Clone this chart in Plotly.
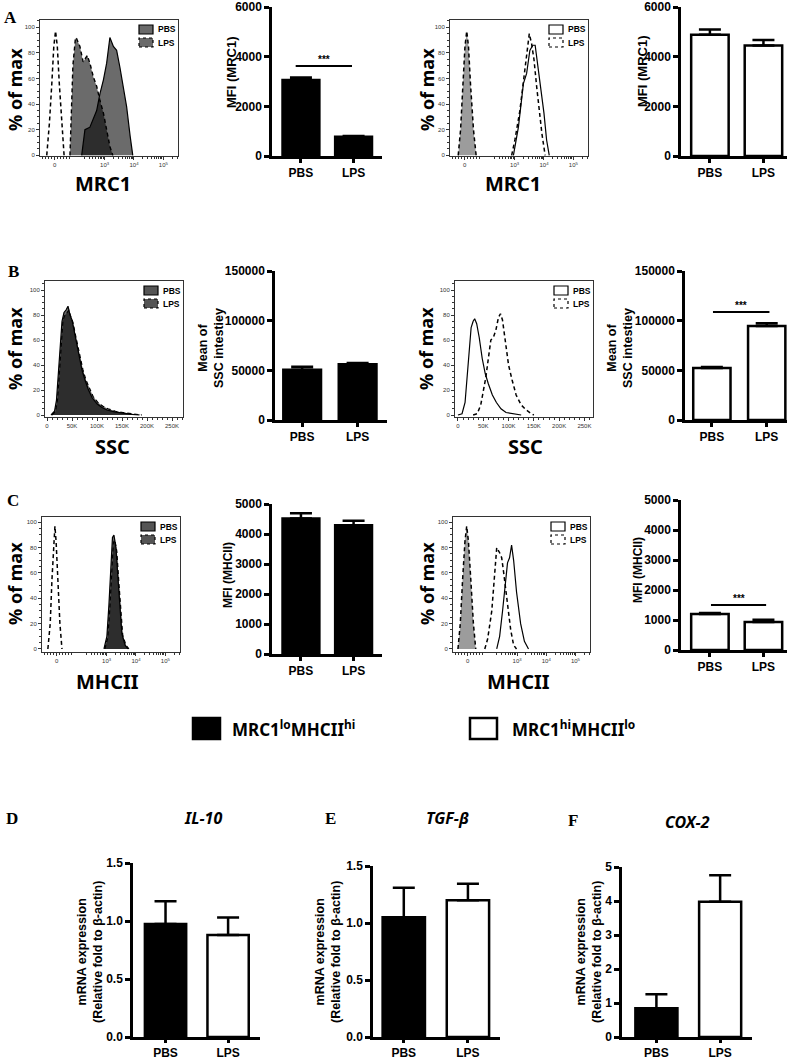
import numpy as np
import plotly.graph_objects as go

W, H = 797, 1060

groups = ['PBS', 'LPS']

# ---------------- histogram data ----------------
# MRC1 / MHCII axes are biexponential: display units 0 -> 1.3, 10^3 -> 3, 10^4 -> 4, 10^5 -> 5
dec_tickvals = [1.3, 3, 4, 5]
dec_ticktext = ['0', '10<sup>3</sup>', '10<sup>4</sup>', '10<sup>5</sup>']

a1_iso_x = [1.03, 1.12, 1.20, 1.27, 1.33, 1.39, 1.46, 1.54, 1.62]
a1_iso_y = [0, 25, 55, 85, 97, 85, 55, 25, 0]
a1_lps_x = [1.82, 1.86, 1.92, 2.00, 2.03, 2.16, 2.27, 2.41, 2.50, 2.62, 2.73, 2.84, 2.96, 3.07, 3.18, 3.28]
a1_lps_y = [0, 30, 70, 90, 92, 85, 73, 78, 72, 61, 54, 43, 33, 20, 7, 0]
a1_pbs_x = [2.22, 2.33, 2.50, 2.73, 2.84, 2.96, 3.07, 3.18, 3.30, 3.41, 3.52, 3.64, 3.75, 3.87, 3.96]
a1_pbs_y = [0, 20, 22, 35, 48, 59, 72, 92, 85, 82, 69, 54, 38, 15, 0]

a3_iso_x = [1.08, 1.16, 1.24, 1.31, 1.37, 1.43, 1.50, 1.60, 1.69]
a3_iso_y = [0, 20, 55, 85, 97, 85, 55, 20, 0]
a3_pbs_x = [2.96, 3.01, 3.13, 3.30, 3.41, 3.52, 3.62, 3.70, 3.75, 3.84, 3.92, 4.00, 4.09, 4.18]
a3_pbs_y = [0, 7, 22, 56, 64, 82, 86, 86, 77, 61, 46, 33, 12, 0]
a3_lps_x = [2.90, 3.01, 3.18, 3.32, 3.41, 3.50, 3.58, 3.66, 3.75, 3.84, 3.93, 4.04]
a3_lps_y = [0, 12, 35, 61, 80, 95, 87, 75, 54, 35, 17, 0]

ssc_tickvals = [0, 50000, 100000, 150000, 200000, 250000]
ssc_ticktext = ['0', '50K', '100K', '150K', '200K', '250K']

b1_pbs_x = [8, 15, 19, 22, 26, 30, 34, 38, 42, 46, 50, 55, 60, 65, 70, 76, 82, 90, 100, 110, 120, 135, 150, 170, 185]
b1_pbs_y = [0, 3, 12, 28, 55, 75, 82, 84, 87, 80, 76, 66, 55, 45, 36, 28, 21, 14, 9, 6, 4, 2.5, 1.5, 0.5, 0]
b1_lps_x = [10, 17, 21, 24, 28, 32, 36, 40, 44, 48, 52, 57, 62, 67, 72, 78, 84, 92, 102, 112, 122, 137, 152, 172, 190]
b1_lps_y = [0, 3, 12, 28, 55, 76, 80, 82, 84, 78, 74, 64, 54, 44, 36, 28, 22, 15, 10, 7, 5, 3, 2, 1, 0]

b3_pbs_x = [0, 8, 14, 18, 22, 26, 30, 33, 37, 42, 48, 54, 60, 68, 76, 85, 95, 110, 125]
b3_pbs_y = [0, 1, 10, 30, 55, 70, 75, 77, 73, 62, 45, 33, 25, 16, 10, 5, 2, 1, 0]
b3_lps_x = [30, 38, 45, 50, 55, 60, 65, 70, 75, 80, 84, 88, 92, 96, 100, 107, 115, 125, 135, 145, 150]
b3_lps_y = [0, 1, 8, 18, 30, 45, 60, 62, 68, 78, 81, 76, 65, 52, 40, 28, 16, 8, 4, 1, 0]

c1_iso_x = [1.00, 1.08, 1.14, 1.20, 1.24, 1.28, 1.34, 1.41, 1.48]
c1_iso_y = [0, 20, 55, 85, 97, 85, 55, 20, 0]
c1_pbs_x = [2.91, 3.01, 3.08, 3.15, 3.20, 3.25, 3.32, 3.39, 3.46, 3.52, 3.63, 3.73]
c1_pbs_y = [0, 10, 35, 70, 88, 90, 80, 55, 30, 12, 3, 0]
c1_lps_x = [2.94, 3.04, 3.11, 3.18, 3.23, 3.28, 3.35, 3.42, 3.49, 3.55, 3.66, 3.76]
c1_lps_y = [0, 9, 32, 66, 84, 86, 77, 52, 28, 11, 3, 0]

c3_iso_x = [0.97, 1.05, 1.13, 1.21, 1.27, 1.33, 1.41, 1.50, 1.58]
c3_iso_y = [0, 20, 55, 85, 97, 85, 55, 20, 0]
c3_lps_x = [1.89, 1.99, 2.13, 2.23, 2.30, 2.40, 2.47, 2.54, 2.64, 2.78, 2.88, 2.98]
c3_lps_y = [0, 8, 30, 60, 80, 76, 72, 60, 40, 15, 3, 0]
c3_pbs_x = [2.30, 2.40, 2.50, 2.61, 2.67, 2.74, 2.81, 2.88, 2.98, 3.12, 3.25, 3.39]
c3_pbs_y = [0, 10, 30, 55, 68, 72, 82, 70, 45, 20, 6, 0]

# ---------------- bar data ----------------
mfi_mrc1_lo = [3060, 780]
mfi_mrc1_lo_err = [100, 25]
mfi_mrc1_hi = [4880, 4450]
mfi_mrc1_hi_err = [210, 220]
ssc_lo = [50500, 56000]
ssc_lo_err = [3000, 1500]
ssc_hi = [52300, 94600]
ssc_hi_err = [1000, 2700]
mfi_mhcii_lo = [4520, 4290]
mfi_mhcii_lo_err = [170, 150]
mfi_mhcii_hi = [1200, 930]
mfi_mhcii_hi_err = [30, 80]
il10 = [0.975, 0.88]
il10_err = [0.195, 0.15]
tgfb = [1.05, 1.20]
tgfb_err = [0.26, 0.145]
cox2 = [0.845, 3.98]
cox2_err = [0.415, 0.78]

# significance bars: (x0, x1, y, label)
sig_a2 = (-0.1, 0.97, 3620, '***')
sig_b4 = (0.02, 1.05, 108700, '***')
sig_c4 = (0.02, 1.05, 1500, '***')
sig_f = (-0.02, 1.05, 5.08, '**')

ARIAL = 'Arial, Liberation Sans, sans-serif'
SANS = 'Noto Sans, Open Sans, sans-serif'
SERIF = 'Times New Roman, Liberation Serif, serif'
FILL = 'rgba(0,0,0,0.58)'
ISO_FILL = '#9c9c9c'
DASH = '4px,3px'


def px_x(p):
    return p / W


def px_y(p):
    return 1 - p / H


fig = go.Figure()
layout = dict(template='none', width=W, height=H, margin=dict(l=0, r=0, t=0, b=0, pad=0, autoexpand=False),
              paper_bgcolor='white', plot_bgcolor='white', showlegend=False)
annotations = []
shapes = []
axis_count = [0]


def text(x, y, s, size, family=ARIAL, angle=0, style='normal', xanchor='center'):
    if style == 'italic':
        s = '<i><b>' + s + '</b></i>'
    else:
        s = '<b>' + s + '</b>'
    annotations.append(dict(x=px_x(x), y=px_y(y), xref='paper', yref='paper', text=s,
                            showarrow=False, textangle=angle, xanchor=xanchor, yanchor='middle',
                            font=dict(size=size, family=family, color='black')))


def new_axes(box, xcfg, ycfg):
    axis_count[0] += 1
    n = axis_count[0]
    sx = '' if n == 1 else str(n)
    L, R, T, B = box
    layout['xaxis' + sx] = dict(domain=[px_x(L), px_x(R)], anchor='y' + sx, automargin=False, **xcfg)
    layout['yaxis' + sx] = dict(domain=[px_y(B), px_y(T)], anchor='x' + sx, automargin=False, **ycfg)
    return 'x' + sx, 'y' + sx


dec_minor = [0.9, 1.0, 1.1, 1.2, 1.4, 1.5, 1.6, 1.7, 1.8] + \
    [d + np.log10(k) for d in (2, 3, 4, 5) for k in range(2, 10) if d + np.log10(k) < 5.5]


def hist_axes(box, xr, yr, tickvals, ticktext, minor):
    tick_font = dict(size=6, family=ARIAL, color='#333')
    xcfg = dict(range=xr, showline=True, mirror=True, linecolor='#333', linewidth=1,
                ticks='outside', ticklen=3, tickwidth=1, tickcolor='#333',
                tickmode='array', tickvals=tickvals, ticktext=ticktext, tickfont=tick_font,
                showgrid=False, zeroline=False, fixedrange=True,
                minor=minor)
    ycfg = dict(range=yr, showline=True, mirror=True, linecolor='#333', linewidth=1,
                ticks='outside', ticklen=3, tickwidth=1, tickcolor='#333',
                tickmode='array', tickvals=[0, 20, 40, 60, 80, 100], tickfont=tick_font,
                showgrid=False, zeroline=False, fixedrange=True,
                minor=dict(ticks='outside', ticklen=2, tickcolor='#333', dtick=5))
    return new_axes(box, xcfg, ycfg)


def curve(xa, ya, xs, ys, fill=None, dash='solid', width=1.2):
    fig.add_trace(go.Scatter(x=xs, y=ys, xaxis=xa, yaxis=ya, mode='lines',
                             line=dict(color='black', width=width, dash=dash),
                             fill='tozeroy' if fill else 'none', fillcolor=fill,
                             hoverinfo='skip'))


def hist_legend(box, fill):
    L, R, T, B = box
    for i, (g, dash) in enumerate([('PBS', 'solid'), ('LPS', 'dot')]):
        y0 = T + 5 + i * 13
        shapes.append(dict(type='rect', xref='paper', yref='paper',
                           x0=px_x(R - 39), x1=px_x(R - 25), y0=px_y(y0 + 9), y1=px_y(y0),
                           fillcolor=fill, line=dict(color='black', width=1.2, dash=dash)))
        text(R - 22, y0 + 4.5, g, 8.5, xanchor='left')


def bar_panel(box, xr, yr, dtick, fmt, vals, errs, fills, width, sig=None, xticklen=4):
    tick_font = dict(size=12, family=ARIAL, color='black')
    yticks = list(np.arange(yr[0], yr[1] + dtick / 2, dtick))
    xcfg = dict(range=xr, showline=True, linecolor='black', linewidth=2.5,
                ticks='outside', ticklen=xticklen, tickwidth=2.5, tickcolor='black',
                tickmode='array', tickvals=[0, 1], ticktext=['<b>%s</b>' % g for g in groups],
                tickfont=tick_font,
                showgrid=False, zeroline=False, fixedrange=True)
    ycfg = dict(range=yr, showline=True, linecolor='black', linewidth=2.5,
                ticks='outside', ticklen=5, tickwidth=2.5, tickcolor='black',
                tickmode='array', tickvals=yticks,
                ticktext=['<b>' + format(v, fmt) + '</b>' for v in yticks], tickfont=tick_font,
                showgrid=False, zeroline=False, fixedrange=True)
    xa, ya = new_axes(box, xcfg, ycfg)
    fig.add_trace(go.Bar(x=[0, 1], y=vals, width=width, xaxis=xa, yaxis=ya,
                         marker=dict(color=fills, line=dict(color='black', width=2.5)),
                         error_y=dict(type='data', array=errs, arrayminus=[0, 0], symmetric=False,
                                      color='black', thickness=2.5, width=11),
                         hoverinfo='skip'))
    if sig:
        x0, x1, y, lab = sig
        fig.add_trace(go.Scatter(x=[x0, x1], y=[y, y], xaxis=xa, yaxis=ya, mode='lines',
                                 line=dict(color='black', width=2), hoverinfo='skip'))
        annotations.append(dict(x=(x0 + x1) / 2, y=y, xref=xa, yref=ya, text='<b>%s</b>' % lab,
                                showarrow=False, yanchor='bottom', yshift=-1,
                                font=dict(size=10, family=ARIAL, color='black')))
    return xa, ya


# ---------------- row A ----------------
box = (40, 178, 20, 156)
xa, ya = hist_axes(box, [0.8, 5.5], [-0.5, 105.7], dec_tickvals, dec_ticktext,
                   dict(ticks='outside', ticklen=2, tickcolor='#333', tickvals=dec_minor))
curve(xa, ya, a1_lps_x, a1_lps_y, fill=FILL, dash=DASH, width=1.4)
curve(xa, ya, a1_pbs_x, a1_pbs_y, fill=FILL)
curve(xa, ya, a1_iso_x, a1_iso_y, dash=DASH, width=1.5)
hist_legend(box, '#6a6a6a')

bar_panel((272, 382, 7, 156), [-0.55, 1.54], [0, 6000], 2000, '.0f',
          mfi_mrc1_lo, mfi_mrc1_lo_err, ['black', 'black'], 0.7, sig_a2)

box = (450, 588, 20, 156)
xa, ya = hist_axes(box, [0.8, 5.5], [-0.5, 105.7], dec_tickvals, dec_ticktext,
                   dict(ticks='outside', ticklen=2, tickcolor='#333', tickvals=dec_minor))
curve(xa, ya, a3_iso_x, a3_iso_y, fill=ISO_FILL, dash=DASH, width=1.5)
curve(xa, ya, a3_pbs_x, a3_pbs_y)
curve(xa, ya, a3_lps_x, a3_lps_y, dash=DASH, width=1.5)
hist_legend(box, 'white')

bar_panel((681, 787, 7, 156), [-0.54, 1.44], [0, 6000], 2000, '.0f',
          mfi_mrc1_hi, mfi_mrc1_hi_err, ['white', 'white'], 0.7)

# ---------------- row B ----------------
box = (45, 183, 281, 417)
xa, ya = hist_axes(box, [-4000, 272000], [-1.6, 107.2], ssc_tickvals, ssc_ticktext,
                   dict(ticks='outside', ticklen=2, tickcolor='#333', dtick=10000, tick0=0))
curve(xa, ya, [v * 1000 for v in b1_lps_x], b1_lps_y, fill=FILL, dash=DASH, width=1.2)
curve(xa, ya, [v * 1000 for v in b1_pbs_x], b1_pbs_y, fill=FILL)
hist_legend(box, '#555555')

bar_panel((275, 387, 271, 420), [-0.49, 1.53], [0, 150000], 50000, '.0f',
          ssc_lo, ssc_lo_err, ['black', 'black'], 0.68)

box = (455, 593, 281, 417)
xa, ya = hist_axes(box, [-5900, 267000], [-1.6, 107.2], ssc_tickvals, ssc_ticktext,
                   dict(ticks='outside', ticklen=2, tickcolor='#333', dtick=10000, tick0=0))
curve(xa, ya, [v * 1000 for v in b3_pbs_x], b3_pbs_y)
curve(xa, ya, [v * 1000 for v in b3_lps_x], b3_lps_y, dash=DASH, width=1.5)
hist_legend(box, 'white')

bar_panel((685, 787, 271, 420), [-0.49, 1.37], [0, 150000], 50000, '.0f',
          ssc_hi, ssc_hi_err, ['white', 'white'], 0.68, sig_b4)

# ---------------- row C ----------------
box = (42, 180, 517, 652)
xa, ya = hist_axes(box, [0.8, 5.5], [-2.4, 104.2], dec_tickvals, dec_ticktext,
                   dict(ticks='outside', ticklen=2, tickcolor='#333', tickvals=dec_minor))
curve(xa, ya, c1_lps_x, c1_lps_y, fill=FILL, dash=DASH, width=1.2)
curve(xa, ya, c1_pbs_x, c1_pbs_y, fill=FILL)
curve(xa, ya, c1_iso_x, c1_iso_y, dash=DASH, width=1.5)
hist_legend(box, '#555555')

bar_panel((272, 382, 504, 654), [-0.55, 1.54], [0, 5000], 1000, '.0f',
          mfi_mhcii_lo, mfi_mhcii_lo_err, ['black', 'black'], 0.7)

box = (453, 590, 517, 652)
xa, ya = hist_axes(box, [0.8, 5.5], [-2.4, 104.2], dec_tickvals, dec_ticktext,
                   dict(ticks='outside', ticklen=2, tickcolor='#333', tickvals=dec_minor))
curve(xa, ya, c3_iso_x, c3_iso_y, fill=ISO_FILL, dash=DASH, width=1.5)
curve(xa, ya, c3_pbs_x, c3_pbs_y)
curve(xa, ya, c3_lps_x, c3_lps_y, dash=DASH, width=1.5)
hist_legend(box, 'white')

bar_panel((681, 787, 500, 650), [-0.54, 1.44], [0, 5000], 1000, '.0f',
          mfi_mhcii_hi, mfi_mhcii_hi_err, ['white', 'white'], 0.7, sig_c4)

# ---------------- row D-F ----------------
bar_panel((133, 260, 863, 1037), [-0.52, 1.51], [0, 1.5], 0.5, '.1f',
          il10, il10_err, ['black', 'white'], 0.66, xticklen=3)
bar_panel((373, 500, 866, 1037), [-0.48, 1.5], [0, 1.5], 0.5, '.1f',
          tgfb, tgfb_err, ['black', 'white'], 0.66, xticklen=3)
bar_panel((622, 752, 867, 1037), [-0.54, 1.5], [0, 5], 1, '.0f',
          cox2, cox2_err, ['black', 'white'], 0.66, sig_f, xticklen=3)

# ---------------- text ----------------
for lab, x, y in [('A', 10, 17), ('B', 13, 272), ('C', 13, 500),
                  ('D', 12, 818), ('E', 330, 818), ('F', 573, 820)]:
    text(x, y, lab, 17, family=SERIF)

for x, y in [(15, 90), (427, 90), (15, 349), (426, 349), (15, 584), (427, 584)]:
    text(x, y, '% of max', 18, family=SANS, angle=-90)

text(103, 184, 'MRC1', 20, family=SANS)
text(513, 184, 'MRC1', 20, family=SANS)
text(112, 446, 'SSC', 20, family=SANS)
text(525, 446, 'SSC', 20, family=SANS)
text(107, 681, 'MHCII', 20, family=SANS)
text(518, 681, 'MHCII', 20, family=SANS)

text(232, 72, 'MFI (MRC1)', 13, angle=-90)
text(642, 71, 'MFI (MRC1)', 13, angle=-90)
text(211, 348, 'Mean of<br>SSC intestiey', 12.5, angle=-90)
text(620, 348, 'Mean of<br>SSC intestiey', 12.5, angle=-90)
text(228, 575, 'MFI (MHCII)', 12, angle=-90)
text(638, 570, 'MFI (MHCII)', 12, angle=-90)
for x in (90, 328, 589):
    text(x, 952, 'mRNA expression<br>(Relative fold to β-actin)', 12.5, angle=-90)

text(203, 818, 'IL-10', 16, family=SANS, style='italic')
text(447, 818, 'TGF-β', 16, family=SANS, style='italic')
text(687, 822, 'COX-2', 16, family=SANS, style='italic')

# group legend
shapes.append(dict(type='rect', xref='paper', yref='paper', x0=px_x(193), x1=px_x(220),
                   y0=px_y(739), y1=px_y(718), fillcolor='black', line=dict(color='black', width=2.5)))
text(230, 728, 'MRC1<sup>lo</sup>MHCII<sup>hi</sup>', 17, family=SANS, xanchor='left')
shapes.append(dict(type='rect', xref='paper', yref='paper', x0=px_x(470), x1=px_x(497),
                   y0=px_y(739), y1=px_y(718), fillcolor='white', line=dict(color='black', width=2.5)))
text(510, 728, 'MRC1<sup>hi</sup>MHCII<sup>lo</sup>', 17, family=SANS, xanchor='left')

layout['annotations'] = annotations
layout['shapes'] = shapes
fig.update_layout(**layout)
fig.write_html('out.html', config={'displayModeBar': False},
               post_script="document.body.style.margin='0px';")
